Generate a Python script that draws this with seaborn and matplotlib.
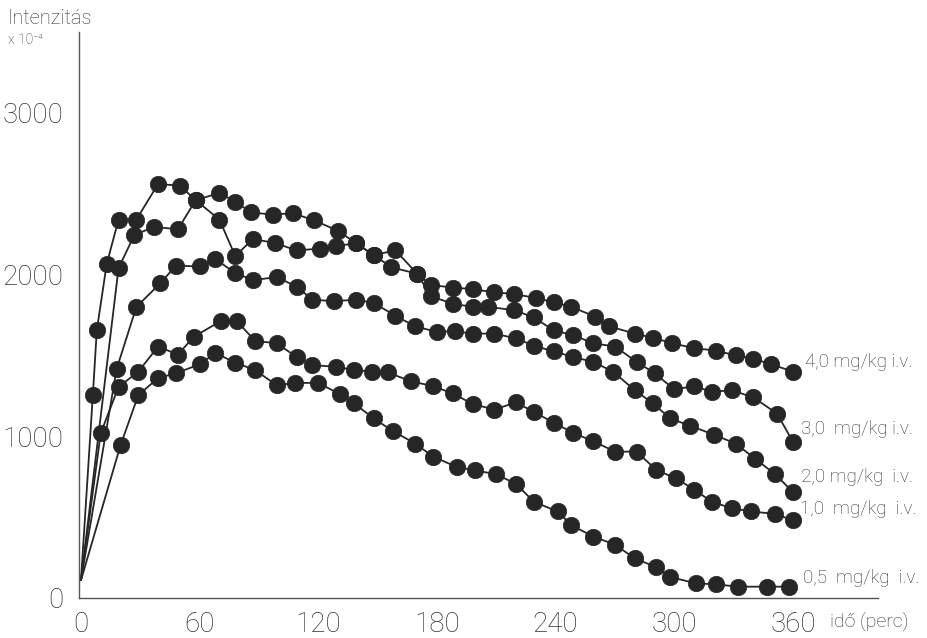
import matplotlib
matplotlib.use("Agg")
import matplotlib.pyplot as plt
import seaborn as sns
import pandas as pd

# Intensity (x 10^-4) over time (minutes) after i.v. doses
t_40 = [0, 19, 27, 37, 49, 58, 70, 78, 86, 97, 107, 118, 130, 139, 148, 159, 170, 177,
        188, 198, 209, 219, 230, 239, 248, 260, 267, 280, 289, 299, 310, 321, 331, 340, 349, 360]
v_40 = [110, 2040, 2245, 2295, 2280, 2460, 2505, 2450, 2385, 2370, 2380, 2335, 2270, 2195,
        2120, 2150, 2005, 1935, 1920, 1910, 1890, 1880, 1855, 1830, 1800, 1740, 1680, 1635,
        1610, 1575, 1545, 1530, 1500, 1480, 1445, 1400]

t_30 = [0, 6, 8, 13, 19, 28, 39, 50, 58, 70, 78, 87, 98, 109, 121, 129, 139, 148, 157, 170,
        177, 188, 198, 206, 219, 229, 239, 249, 259, 270, 281, 290, 300, 310, 319, 329, 340, 352, 360]
v_30 = [110, 1255, 1655, 2065, 2340, 2340, 2560, 2550, 2460, 2340, 2115, 2220, 2195, 2150,
        2160, 2175, 2195, 2120, 2045, 2005, 1865, 1820, 1800, 1800, 1780, 1735, 1655, 1625,
        1575, 1555, 1460, 1390, 1290, 1310, 1275, 1285, 1240, 1140, 965]

t_20 = [0, 18, 28, 40, 48, 60, 68, 78, 87, 99, 109, 117, 128, 139, 148, 159, 169, 180, 189,
        198, 209, 220, 229, 239, 249, 259, 269, 280, 289, 298, 308, 320, 331, 341, 351, 360]
v_20 = [110, 1415, 1800, 1945, 2055, 2050, 2095, 2010, 1965, 1985, 1925, 1845, 1835, 1845,
        1825, 1745, 1680, 1645, 1650, 1635, 1635, 1605, 1560, 1525, 1490, 1460, 1400, 1285,
        1205, 1110, 1065, 1010, 955, 860, 765, 655]

t_10 = [0, 10, 19, 29, 39, 49, 57, 71, 79, 88, 99, 109, 117, 129, 138, 147, 155, 167, 178,
        188, 198, 209, 220, 229, 239, 249, 259, 270, 281, 291, 301, 310, 319, 329, 339, 351, 360]
v_10 = [110, 1020, 1305, 1400, 1555, 1505, 1615, 1715, 1710, 1590, 1575, 1490, 1440, 1430,
        1410, 1400, 1395, 1340, 1310, 1265, 1200, 1165, 1210, 1150, 1085, 1020, 970, 905, 905,
        790, 740, 670, 595, 555, 535, 520, 480]

t_05 = [0, 20, 29, 39, 48, 60, 68, 78, 88, 99, 108, 120, 131, 138, 148, 158, 169, 178, 190,
        199, 210, 220, 229, 241, 248, 259, 270, 280, 291, 298, 311, 321, 332, 347, 358]
v_05 = [110, 945, 1255, 1360, 1390, 1445, 1515, 1455, 1410, 1315, 1330, 1330, 1260, 1205,
        1110, 1030, 955, 875, 810, 790, 765, 705, 595, 535, 450, 380, 330, 245, 190, 130, 90,
        85, 70, 70, 70]

dose_labels = ["4,0 mg/kg i.v.", "3,0  mg/kg i.v.", "2,0 mg/kg  i.v.",
               "1,0  mg/kg  i.v.", "0,5  mg/kg  i.v."]
x_ticks = list(range(0, 361, 20))
x_ticklabels = [str(t) if t % 60 == 0 else "" for t in x_ticks]
y_ticks = [0, 1000, 2000, 3000]

series = [(t_40, v_40), (t_30, v_30), (t_20, v_20), (t_10, v_10), (t_05, v_05)]
frames = []
for lab, (t, v) in zip(dose_labels, series):
    frames.append(pd.DataFrame({"ido": t, "intenzitas": v, "dozis": lab,
                                "order": range(len(t))}))
df = pd.concat(frames, ignore_index=True)

sns.set_style("white")
plt.rcParams["font.family"] = ["Roboto", "DejaVu Sans"]
plt.rcParams["font.weight"] = "light"

INK = "#262626"
TXT = "#333333"

fig = plt.figure(figsize=(9.28, 6.38), dpi=100)
ax = fig.add_axes([79 / 928, 40 / 638, 799 / 928, 566 / 638])

sns.lineplot(data=df, x="ido", y="intenzitas", units="dozis", estimator=None,
             sort=False, color=INK, linewidth=1.3, ax=ax, legend=False)
sns.scatterplot(data=df[df["order"] > 0], x="ido", y="intenzitas", color=INK,
                s=140, edgecolor=INK, linewidth=0.5, ax=ax, legend=False, zorder=3)

# dose labels next to the last point of each curve
label_offsets = [(9, 7), (6, 9), (6, 11), (5, 8), (10, 6)]
for lab, (t, v), (dx, dy) in zip(dose_labels, series, label_offsets):
    ax.annotate(lab, xy=(t[-1], v[-1]), xytext=(dx, dy), textcoords="offset points",
                fontsize=13.5, color=TXT, va="center", ha="left", annotation_clip=False)

ax.set_xlim(-1, 403)
ax.set_ylim(0, 3500)
ax.set_xticks(x_ticks)
ax.set_xticklabels(x_ticklabels)
ax.set_yticks(y_ticks)
ax.set_yticklabels([str(y) for y in y_ticks])
ax.tick_params(axis="both", direction="out", length=5, width=0.9, color="#555555",
               labelsize=20, labelcolor=TXT, pad=4)
ax.tick_params(axis="y", pad=6)
ax.set_xlabel("")
ax.set_ylabel("")

for side in ("top", "right"):
    ax.spines[side].set_visible(False)
for side in ("left", "bottom"):
    ax.spines[side].set_color("#555555")
    ax.spines[side].set_linewidth(1.0)

fig.text(8 / 928, 1 - 18 / 638, "Intenzitás", fontsize=14.5, color=TXT, va="center", ha="left")
fig.text(8 / 928, 1 - 40 / 638, "x 10⁻⁴", fontsize=10, color=TXT, va="center", ha="left")
fig.text(830 / 928, 1 - 622 / 638, "idő (perc)", fontsize=14, color=TXT, va="center", ha="left")

fig.savefig("out.png", dpi=100, facecolor="white")
